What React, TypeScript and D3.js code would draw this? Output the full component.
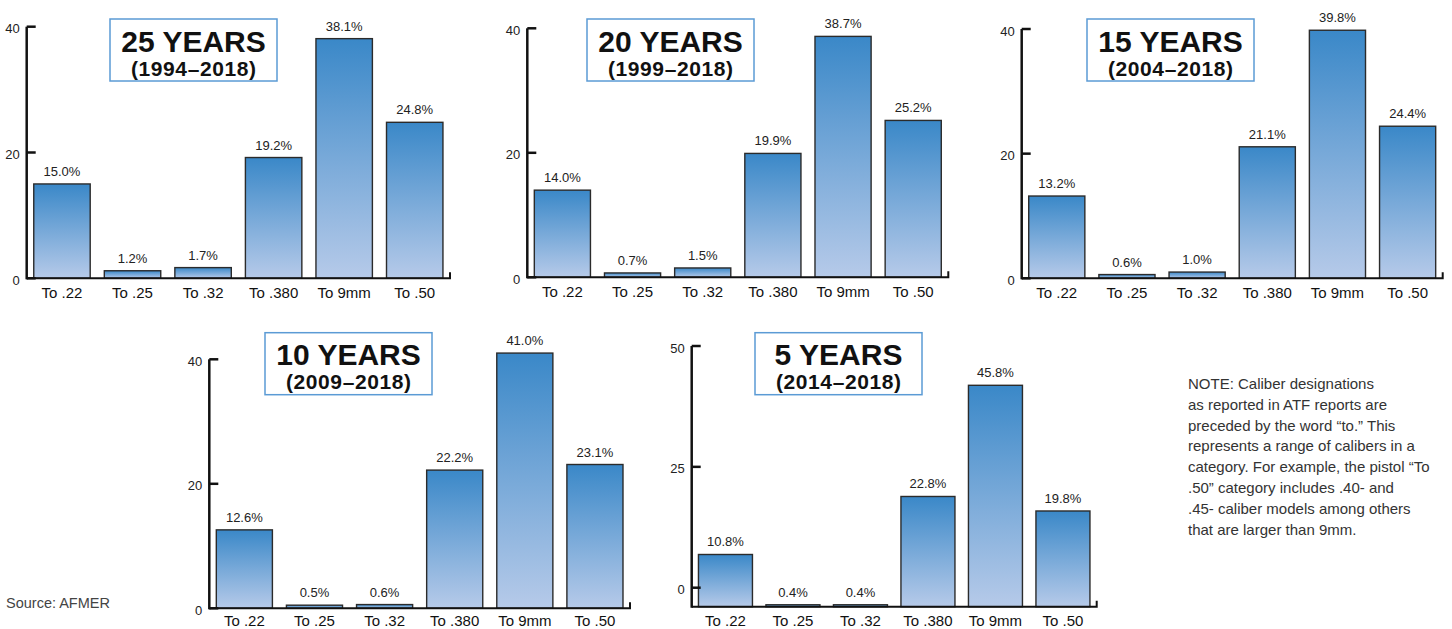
import React from "react";
import * as d3 from "d3";

// Pistol caliber categories and the share (%) of each over several periods
const CATEGORIES = ["To .22", "To .25", "To .32", "To .380", "To 9mm", "To .50"];
const SHARE_25Y = [15.0, 1.2, 1.7, 19.2, 38.1, 24.8];
const SHARE_20Y = [14.0, 0.7, 1.5, 19.9, 38.7, 25.2];
const SHARE_15Y = [13.2, 0.6, 1.0, 21.1, 39.8, 24.4];
const SHARE_10Y = [12.6, 0.5, 0.6, 22.2, 41.0, 23.1];
const SHARE_5Y = [10.8, 0.4, 0.4, 22.8, 45.8, 19.8];

const TITLES = ["25 YEARS", "20 YEARS", "15 YEARS", "10 YEARS", "5 YEARS"];
const SUBTITLES = ["(1994–2018)", "(1999–2018)", "(2004–2018)", "(2009–2018)", "(2014–2018)"];

const TICKS_40 = [0, 20, 40];
const TICKS_50 = [0, 25, 50];

const NOTE_LINES = [
  "NOTE: Caliber designations",
  "as reported in ATF reports are",
  "preceded by the word “to.” This",
  "represents a range of calibers in a",
  "category. For example, the pistol “To",
  ".50” category includes .40- and",
  ".45- caliber models among others",
  "that are larger than 9mm.",
];
const SOURCE = "Source: AFMER";

// Panel geometry: axis x, right end of baseline, baseline y,
// y of the zero tick / top tick, and top-left of the title box.
type Panel = {
  values: number[];
  ticks: number[];
  max: number;
  x0: number;
  x1: number;
  base: number;
  tick0: number;
  tickTop: number;
  boxX: number;
  boxY: number;
};

const PANELS: Panel[] = [
  { values: SHARE_25Y, ticks: TICKS_40, max: 40, x0: 26.7, x1: 450, base: 278.3, tick0: 278.3, tickTop: 26.7, boxX: 110, boxY: 19 },
  { values: SHARE_20Y, ticks: TICKS_40, max: 40, x0: 527.3, x1: 948.3, base: 277.3, tick0: 277.3, tickTop: 28.3, boxX: 587, boxY: 19 },
  { values: SHARE_15Y, ticks: TICKS_40, max: 40, x0: 1021.7, x1: 1442.7, base: 278.3, tick0: 278.3, tickTop: 29, boxX: 1087, boxY: 19 },
  { values: SHARE_10Y, ticks: TICKS_40, max: 40, x0: 209.3, x1: 630, base: 608.3, tick0: 608.3, tickTop: 359.3, boxX: 265, boxY: 332.7 },
  { values: SHARE_5Y, ticks: TICKS_50, max: 50, x0: 691.7, x1: 1096.7, base: 606.7, tick0: 587.7, tickTop: 346, boxX: 755, boxY: 332.7 },
];

const FONT = "'Liberation Sans', Arial, sans-serif";
const BOX_W = 167;
const BOX_H = 62;

function BarPanel({ p, i }: { p: Panel; i: number }) {
  const x = d3
    .scaleBand<string>()
    .domain(CATEGORIES)
    .range([p.x0, p.x1])
    .paddingInner(0.2)
    .paddingOuter(0.1);
  // scale for the axis ticks
  const yAxis = d3.scaleLinear().domain([0, p.max]).range([p.tick0, p.tickTop]);
  // bars use the same pixels per unit but grow from the baseline
  const pxPerUnit = (p.tick0 - p.tickTop) / p.max;
  const yBar = d3
    .scaleLinear()
    .domain([0, p.max])
    .range([p.base, p.base - pxPerUnit * p.max]);
  const labelY = Math.min(p.base + 20, 625.5);

  return (
    <g>
      {p.values.map((v, k) => {
        const cat = CATEGORIES[k];
        const bx = x(cat)!;
        const top = yBar(v);
        return (
          <g key={cat}>
            <rect
              x={bx}
              y={top}
              width={x.bandwidth()}
              height={p.base - top}
              fill="url(#barGrad)"
              stroke="#2b2b2b"
              strokeWidth={1.4}
            />
            <text
              x={bx + x.bandwidth() / 2}
              y={top - 8}
              textAnchor="middle"
              fontSize={13}
              fill="#222"
              fontFamily={FONT}
            >
              {v.toFixed(1)}%
            </text>
            <text
              x={bx + x.bandwidth() / 2}
              y={labelY}
              textAnchor="middle"
              fontSize={15}
              fill="#111"
              fontFamily={FONT}
            >
              {cat}
            </text>
          </g>
        );
      })}

      {/* baseline with a small hook at its right end */}
      <path
        d={`M${p.x0},${p.base}H${p.x1}V${p.base - 6}`}
        fill="none"
        stroke="#111"
        strokeWidth={2}
      />
      {/* vertical axis */}
      <line x1={p.x0} x2={p.x0} y1={p.base + 1} y2={p.tickTop} stroke="#111" strokeWidth={2.5} />
      {p.ticks.map((t) => (
        <g key={t}>
          <line
            x1={p.x0}
            x2={p.x0 + 9}
            y1={yAxis(t)}
            y2={yAxis(t)}
            stroke="#111"
            strokeWidth={2.5}
          />
          <text
            x={p.x0 - 7}
            y={yAxis(t) + 2}
            textAnchor="end"
            dominantBaseline="central"
            fontSize={13}
            fill="#222"
            fontFamily={FONT}
          >
            {t}
          </text>
        </g>
      ))}

      {/* title box */}
      <rect
        x={p.boxX}
        y={p.boxY}
        width={BOX_W}
        height={BOX_H}
        fill="#fff"
        stroke="#5b9bd5"
        strokeWidth={1.5}
      />
      <text
        x={p.boxX + BOX_W / 2}
        y={p.boxY + 32.7}
        textAnchor="middle"
        fontSize={30}
        fontWeight="bold"
        fill="#111"
        fontFamily={FONT}
      >
        {TITLES[i]}
      </text>
      <text
        x={p.boxX + BOX_W / 2 + 0.3}
        y={p.boxY + 56.5}
        textAnchor="middle"
        fontSize={21}
        fontWeight="bold"
        letterSpacing={0.6}
        fill="#111"
        fontFamily={FONT}
      >
        {SUBTITLES[i]}
      </text>
    </g>
  );
}

export default function App() {
  return (
    <svg
      width={1452}
      height={629}
      style={{ position: "absolute", left: 0, top: 0, display: "block", background: "#fff" }}
    >
      <defs>
        <linearGradient id="barGrad" x1="0" y1="0" x2="0" y2="1">
          <stop offset="0%" stopColor="#3a88c8" />
          <stop offset="100%" stopColor="#b6cae9" />
        </linearGradient>
      </defs>
      <rect x={0} y={0} width={1452} height={629} fill="#fff" />
      {PANELS.map((p, i) => (
        <BarPanel key={i} p={p} i={i} />
      ))}
      <text x={6} y={607.7} fontSize={14.5} fill="#444" fontFamily={FONT}>
        {SOURCE}
      </text>
      <g fontFamily={FONT} fontSize={15} fill="#333">
        {NOTE_LINES.map((line, k) => (
          <text key={k} x={1188} y={389 + k * 20.8}>
            {line}
          </text>
        ))}
      </g>
    </svg>
  );
}
